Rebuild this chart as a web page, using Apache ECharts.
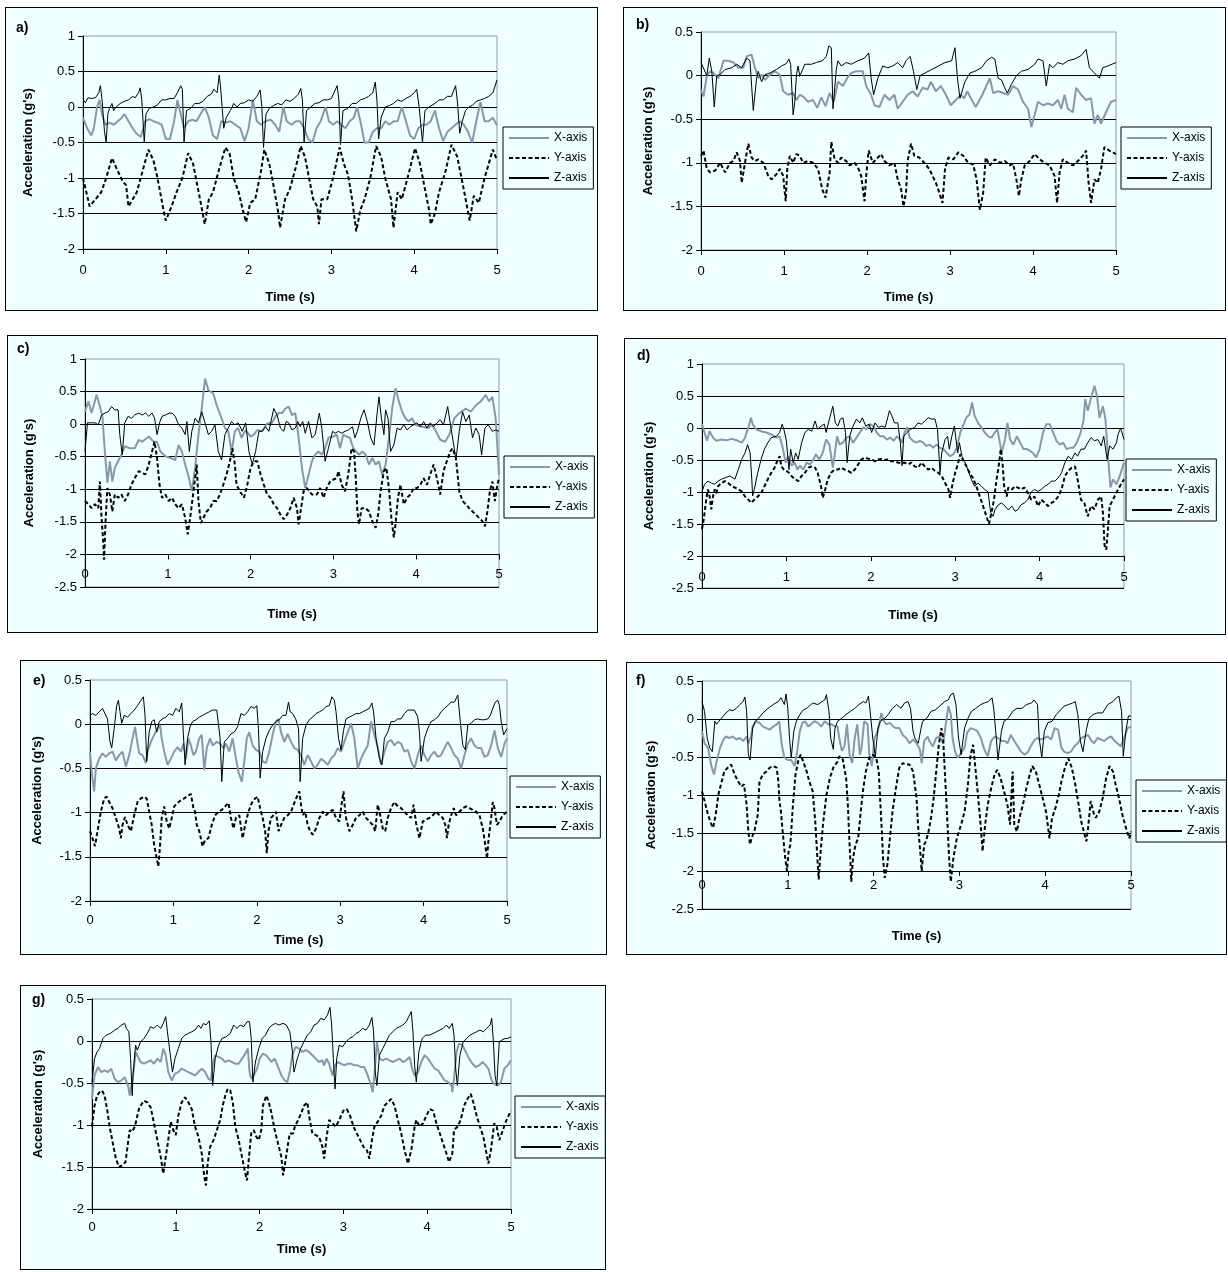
<!DOCTYPE html>
<html>
<head>
<meta charset="utf-8">
<script src="https://cdn.jsdelivr.net/npm/echarts@6/dist/echarts.min.js"></script>
<style>
  html, body { margin: 0; padding: 0; background: #fff; }
  #page { position: relative; width: 1228px; height: 1272px; }
  .box { position: absolute; box-sizing: border-box; border: 1px solid #000; background: #f0ffff; }
  #chart { position: absolute; left: 0; top: 0; width: 1228px; height: 1272px; }
</style>
</head>
<body>
<div id="page">
  <div id="chart"></div>
</div>
<script>
// ---- data: [time (s), acceleration (g's)] ----
const aX = [[0,-0.15],[0.05,-0.3],[0.1,-0.4],[0.13,-0.3],[0.17,0.0],[0.2,0.1],[0.23,-0.1],[0.27,-0.25],[0.32,-0.22],[0.37,-0.25],[0.42,-0.2],[0.47,-0.15],[0.5,-0.1],[0.55,-0.2],[0.6,-0.3],[0.65,-0.38],[0.7,-0.42],[0.75,-0.2],[0.8,-0.17],[0.85,-0.2],[0.9,-0.22],[0.95,-0.25],[1.0,-0.45],[1.05,-0.45],[1.1,-0.2],[1.14,0.1],[1.18,-0.1],[1.22,-0.3],[1.27,-0.2],[1.32,-0.18],[1.37,-0.2],[1.42,-0.1],[1.47,0.0],[1.52,-0.15],[1.57,-0.4],[1.62,-0.45],[1.67,-0.2],[1.72,-0.22],[1.78,-0.2],[1.84,-0.25],[1.9,-0.3],[1.95,-0.48],[2.0,-0.3],[2.05,0.1],[2.1,-0.2],[2.15,-0.25],[2.2,-0.2],[2.27,-0.18],[2.32,-0.25],[2.37,-0.35],[2.42,0.0],[2.46,-0.2],[2.52,-0.25],[2.57,-0.2],[2.62,-0.2],[2.67,-0.3],[2.72,-0.45],[2.77,-0.5],[2.82,-0.3],[2.87,-0.2],[2.93,0.0],[2.97,-0.2],[3.02,-0.25],[3.07,-0.2],[3.12,-0.25],[3.17,-0.3],[3.22,-0.2],[3.27,-0.15],[3.31,0.0],[3.35,-0.2],[3.4,-0.5],[3.45,-0.5],[3.5,-0.35],[3.55,-0.3],[3.6,-0.3],[3.65,-0.2],[3.7,-0.25],[3.75,-0.2],[3.8,-0.2],[3.85,0.0],[3.9,-0.2],[3.95,-0.4],[4.0,-0.45],[4.05,-0.3],[4.1,-0.25],[4.15,-0.25],[4.2,-0.2],[4.25,-0.05],[4.3,-0.3],[4.35,-0.48],[4.4,-0.35],[4.45,-0.3],[4.5,-0.25],[4.55,-0.2],[4.6,-0.25],[4.65,-0.35],[4.7,-0.5],[4.75,-0.2],[4.8,0.07],[4.85,-0.2],[4.9,-0.2],[4.95,-0.15],[5.0,-0.26]];
const aY = [[0,-1.0],[0.08,-1.4],[0.15,-1.3],[0.22,-1.2],[0.28,-1.0],[0.35,-0.72],[0.4,-0.85],[0.48,-1.05],[0.52,-1.1],[0.55,-1.4],[0.6,-1.3],[0.65,-1.2],[0.72,-0.9],[0.79,-0.6],[0.85,-0.75],[0.9,-1.0],[0.98,-1.5],[1.0,-1.6],[1.07,-1.4],[1.13,-1.2],[1.2,-1.0],[1.27,-0.65],[1.33,-0.8],[1.38,-1.1],[1.43,-1.4],[1.47,-1.65],[1.52,-1.3],[1.57,-1.2],[1.65,-0.85],[1.72,-0.57],[1.77,-0.65],[1.82,-1.0],[1.88,-1.2],[1.93,-1.45],[1.97,-1.62],[2.02,-1.35],[2.08,-1.3],[2.15,-0.9],[2.19,-0.6],[2.25,-0.8],[2.3,-1.1],[2.36,-1.5],[2.38,-1.7],[2.44,-1.3],[2.5,-1.15],[2.57,-0.85],[2.63,-0.55],[2.68,-0.7],[2.73,-1.0],[2.78,-1.3],[2.83,-1.4],[2.85,-1.65],[2.88,-1.3],[2.95,-1.3],[3.02,-1.0],[3.1,-0.57],[3.15,-0.8],[3.2,-0.95],[3.25,-1.3],[3.3,-1.75],[3.35,-1.45],[3.4,-1.3],[3.47,-1.0],[3.54,-0.55],[3.6,-0.7],[3.65,-1.0],[3.72,-1.3],[3.75,-1.7],[3.8,-1.2],[3.85,-1.3],[3.92,-1.0],[4.01,-0.58],[4.07,-0.8],[4.12,-1.1],[4.18,-1.45],[4.2,-1.65],[4.25,-1.5],[4.3,-1.2],[4.38,-0.9],[4.45,-0.53],[4.52,-0.7],[4.58,-1.05],[4.63,-1.35],[4.67,-1.6],[4.72,-1.25],[4.78,-1.35],[4.85,-1.0],[4.95,-0.6],[5.0,-0.75]];
const aZ = [[0,0.1],[0.03,0.06],[0.06,0.13],[0.1,0.12],[0.15,0.13],[0.19,0.2],[0.21,0.3],[0.23,0.1],[0.26,-0.35],[0.28,-0.5],[0.3,-0.1],[0.32,-0.02],[0.35,0.05],[0.37,-0.05],[0.4,0.0],[0.45,0.05],[0.5,0.08],[0.55,0.1],[0.6,0.15],[0.63,0.13],[0.67,0.2],[0.69,0.27],[0.71,0.1],[0.74,-0.5],[0.76,-0.1],[0.8,-0.02],[0.85,0.0],[0.9,0.03],[0.95,0.1],[1.0,0.1],[1.05,0.12],[1.1,0.12],[1.14,0.2],[1.18,0.3],[1.2,0.25],[1.22,-0.5],[1.25,-0.05],[1.3,-0.02],[1.35,0.05],[1.4,0.05],[1.45,0.08],[1.5,0.15],[1.55,0.18],[1.58,0.25],[1.62,0.2],[1.645,0.45],[1.66,0.3],[1.7,-0.3],[1.73,-0.15],[1.78,-0.05],[1.82,0.05],[1.86,0.0],[1.9,0.05],[1.95,0.06],[2.0,0.1],[2.05,0.08],[2.1,0.15],[2.14,0.24],[2.16,0.0],[2.18,-0.57],[2.21,-0.1],[2.25,-0.02],[2.3,0.02],[2.35,0.05],[2.4,0.03],[2.45,0.1],[2.5,0.08],[2.55,0.12],[2.6,0.18],[2.63,0.26],[2.65,0.1],[2.67,-0.5],[2.7,-0.05],[2.75,0.0],[2.8,0.05],[2.85,0.06],[2.9,0.1],[2.95,0.1],[3.0,0.12],[3.03,0.2],[3.07,0.3],[3.09,0.1],[3.11,-0.53],[3.14,-0.05],[3.2,-0.02],[3.25,0.05],[3.3,0.05],[3.35,0.1],[3.4,0.12],[3.45,0.15],[3.5,0.2],[3.53,0.35],[3.55,0.1],[3.57,-0.45],[3.6,-0.15],[3.65,0.0],[3.7,0.02],[3.75,0.05],[3.8,0.1],[3.85,0.08],[3.9,0.12],[3.95,0.15],[4.0,0.2],[4.03,0.25],[4.06,0.0],[4.1,-0.5],[4.13,-0.05],[4.18,0.0],[4.25,0.05],[4.3,0.1],[4.35,0.1],[4.4,0.15],[4.45,0.15],[4.5,0.3],[4.52,0.1],[4.55,-0.37],[4.58,-0.2],[4.62,-0.05],[4.66,0.0],[4.7,0.02],[4.75,0.08],[4.8,0.1],[4.85,0.12],[4.9,0.15],[4.95,0.2],[5.0,0.38]];

const bX = [[0,-0.16],[0.03,-0.24],[0.07,0.0],[0.11,0.05],[0.15,0.03],[0.21,-0.03],[0.27,0.17],[0.33,0.17],[0.39,0.15],[0.45,0.09],[0.51,0.09],[0.55,0.22],[0.61,0.24],[0.65,0.09],[0.69,-0.03],[0.73,0.01],[0.77,-0.05],[0.83,0.01],[0.89,0.05],[0.95,0.01],[0.99,-0.18],[1.05,-0.22],[1.11,-0.2],[1.15,-0.28],[1.19,-0.22],[1.23,-0.24],[1.29,-0.3],[1.35,-0.28],[1.4,-0.37],[1.45,-0.25],[1.5,-0.35],[1.55,-0.2],[1.6,-0.3],[1.65,-0.07],[1.71,-0.12],[1.76,-0.03],[1.81,0.03],[1.87,0.05],[1.95,0.05],[1.99,-0.12],[2.05,-0.22],[2.09,-0.34],[2.15,-0.36],[2.21,-0.22],[2.27,-0.28],[2.33,-0.22],[2.37,-0.38],[2.43,-0.3],[2.49,-0.22],[2.55,-0.18],[2.61,-0.24],[2.67,-0.14],[2.73,-0.16],[2.77,-0.07],[2.83,-0.18],[2.89,-0.12],[2.95,-0.22],[3.01,-0.34],[3.07,-0.28],[3.13,-0.22],[3.17,-0.26],[3.21,-0.18],[3.25,-0.26],[3.31,-0.36],[3.39,-0.22],[3.48,-0.03],[3.52,-0.2],[3.58,-0.18],[3.64,-0.2],[3.7,-0.22],[3.76,-0.12],[3.82,-0.16],[3.88,-0.3],[3.94,-0.38],[3.98,-0.59],[4.02,-0.45],[4.06,-0.3],[4.12,-0.34],[4.18,-0.32],[4.24,-0.34],[4.3,-0.28],[4.34,-0.38],[4.38,-0.22],[4.42,-0.38],[4.48,-0.42],[4.52,-0.14],[4.58,-0.22],[4.64,-0.28],[4.7,-0.26],[4.74,-0.55],[4.78,-0.45],[4.82,-0.55],[4.88,-0.42],[4.94,-0.3],[5.0,-0.28]];
const bY = [[0,-0.92],[0.03,-0.86],[0.07,-1.07],[0.11,-1.11],[0.17,-1.09],[0.23,-1.0],[0.29,-1.11],[0.35,-1.0],[0.39,-0.98],[0.43,-0.88],[0.47,-0.98],[0.49,-1.23],[0.53,-1.0],[0.57,-0.78],[0.61,-0.94],[0.65,-0.98],[0.69,-0.96],[0.75,-1.0],[0.81,-1.15],[0.85,-1.19],[0.91,-1.13],[0.95,-1.07],[0.99,-1.15],[1.02,-1.44],[1.04,-1.07],[1.07,-0.92],[1.11,-1.0],[1.15,-0.9],[1.19,-0.92],[1.23,-1.0],[1.29,-0.98],[1.35,-1.0],[1.41,-1.07],[1.46,-1.3],[1.5,-1.4],[1.55,-1.11],[1.57,-0.76],[1.61,-0.96],[1.65,-1.0],[1.69,-0.94],[1.75,-0.98],[1.79,-1.03],[1.85,-1.0],[1.89,-1.05],[1.93,-1.15],[1.97,-1.44],[1.99,-1.15],[2.02,-0.86],[2.07,-1.0],[2.13,-0.94],[2.17,-0.9],[2.21,-0.98],[2.27,-1.03],[2.33,-1.0],[2.37,-1.19],[2.41,-1.3],[2.44,-1.5],[2.47,-1.34],[2.49,-0.98],[2.53,-0.78],[2.57,-0.92],[2.63,-0.94],[2.69,-1.0],[2.75,-1.07],[2.79,-1.15],[2.83,-1.23],[2.87,-1.34],[2.91,-1.46],[2.94,-1.07],[2.98,-0.94],[3.04,-0.96],[3.1,-0.88],[3.16,-0.92],[3.22,-1.0],[3.28,-1.02],[3.32,-1.19],[3.36,-1.54],[3.4,-1.34],[3.43,-0.94],[3.48,-1.03],[3.54,-0.96],[3.6,-1.0],[3.66,-0.98],[3.72,-1.03],[3.76,-1.01],[3.8,-1.19],[3.83,-1.38],[3.86,-1.19],[3.9,-1.03],[3.96,-0.98],[4.02,-0.9],[4.08,-0.96],[4.14,-1.0],[4.2,-1.03],[4.26,-1.15],[4.29,-1.46],[4.32,-1.11],[4.36,-0.96],[4.42,-1.0],[4.48,-1.03],[4.54,-0.98],[4.6,-0.92],[4.64,-0.86],[4.67,-1.23],[4.7,-1.46],[4.74,-1.19],[4.78,-1.23],[4.82,-1.07],[4.86,-0.82],[4.92,-0.86],[5.0,-0.9]];
const bZ = [[0,0.15],[0.07,0.0],[0.1,0.2],[0.13,0.05],[0.16,-0.36],[0.19,0.0],[0.23,0.01],[0.29,0.07],[0.37,0.09],[0.43,0.13],[0.49,0.09],[0.55,0.2],[0.59,0.17],[0.61,-0.12],[0.63,-0.4],[0.67,-0.03],[0.69,0.05],[0.73,-0.07],[0.77,0.01],[0.83,0.03],[0.91,0.07],[0.97,0.11],[1.03,0.14],[1.06,0.19],[1.08,0.13],[1.11,-0.45],[1.13,-0.3],[1.15,0.01],[1.17,0.11],[1.19,-0.01],[1.25,0.13],[1.33,0.13],[1.39,0.15],[1.46,0.17],[1.51,0.22],[1.54,0.34],[1.57,0.32],[1.59,-0.38],[1.63,0.07],[1.65,0.17],[1.69,0.11],[1.75,0.15],[1.81,0.13],[1.89,0.17],[1.97,0.2],[2.02,0.26],[2.05,-0.03],[2.08,-0.22],[2.13,-0.03],[2.19,0.11],[2.25,0.09],[2.31,0.11],[2.37,0.15],[2.43,0.09],[2.47,0.17],[2.52,0.22],[2.56,0.05],[2.6,-0.16],[2.64,0.0],[2.7,0.03],[2.78,0.07],[2.86,0.11],[2.94,0.15],[3.02,0.17],[3.06,0.32],[3.09,-0.03],[3.12,-0.26],[3.18,-0.07],[3.24,0.03],[3.3,0.05],[3.38,0.09],[3.44,0.17],[3.5,0.21],[3.54,0.19],[3.58,-0.03],[3.62,-0.05],[3.66,-0.14],[3.69,-0.2],[3.74,-0.1],[3.8,0.0],[3.86,0.05],[3.94,0.07],[4.02,0.13],[4.06,0.19],[4.12,0.17],[4.16,-0.12],[4.2,0.13],[4.24,0.09],[4.3,0.15],[4.36,0.13],[4.42,0.17],[4.5,0.19],[4.58,0.23],[4.64,0.3],[4.68,0.09],[4.74,0.03],[4.8,-0.03],[4.84,0.09],[4.9,0.11],[5.0,0.15]];

const cX = [[0,0.19],[0.04,0.35],[0.08,0.17],[0.14,0.45],[0.18,0.27],[0.21,0.12],[0.24,-0.42],[0.27,-0.9],[0.3,-0.57],[0.33,-0.88],[0.36,-0.67],[0.4,-0.57],[0.44,-0.47],[0.48,-0.34],[0.54,-0.37],[0.6,-0.37],[0.65,-0.24],[0.69,-0.27],[0.77,-0.19],[0.83,-0.27],[0.87,-0.27],[0.91,-0.42],[0.97,-0.49],[1.03,-0.52],[1.09,-0.55],[1.13,-0.32],[1.17,-0.42],[1.21,-0.62],[1.25,-0.8],[1.29,-1.03],[1.33,-0.67],[1.37,-0.16],[1.41,0.24],[1.45,0.7],[1.49,0.52],[1.55,0.47],[1.59,0.29],[1.65,0.09],[1.69,-0.06],[1.73,-0.11],[1.77,-0.42],[1.81,-0.11],[1.85,-0.06],[1.89,-0.21],[1.94,-0.09],[2.0,-0.19],[2.04,-0.16],[2.08,-0.09],[2.14,-0.11],[2.2,0.01],[2.26,0.02],[2.3,0.12],[2.34,0.17],[2.38,0.17],[2.42,0.24],[2.46,0.27],[2.5,0.14],[2.54,0.17],[2.58,-0.21],[2.62,-0.67],[2.66,-0.98],[2.7,-0.78],[2.74,-0.57],[2.78,-0.47],[2.82,-0.42],[2.86,-0.47],[2.9,-0.37],[2.94,-0.21],[3.0,-0.19],[3.04,-0.16],[3.08,-0.37],[3.12,-0.16],[3.16,-0.19],[3.2,-0.21],[3.24,-0.37],[3.31,-0.47],[3.35,-0.42],[3.39,-0.47],[3.43,-0.62],[3.47,-0.52],[3.51,-0.62],[3.55,-0.57],[3.59,-0.78],[3.63,-0.62],[3.67,-0.21],[3.71,0.24],[3.75,0.55],[3.79,0.35],[3.83,0.19],[3.87,0.09],[3.91,0.04],[3.95,0.09],[3.99,-0.01],[4.07,-0.04],[4.15,-0.06],[4.19,-0.01],[4.23,-0.09],[4.29,-0.24],[4.35,-0.27],[4.4,-0.16],[4.46,0.09],[4.52,0.17],[4.6,0.24],[4.66,0.19],[4.72,0.29],[4.78,0.35],[4.84,0.45],[4.88,0.35],[4.92,0.42],[4.96,0.09],[5.0,-0.78]];
const cY = [[0,-1.18],[0.04,-1.23],[0.08,-1.29],[0.12,-1.23],[0.16,-1.29],[0.18,-0.88],[0.2,-1.44],[0.22,-1.8],[0.23,-2.08],[0.25,-1.44],[0.27,-0.98],[0.3,-1.08],[0.33,-1.34],[0.36,-1.08],[0.4,-1.13],[0.44,-1.08],[0.48,-1.18],[0.52,-1.08],[0.56,-0.93],[0.6,-0.83],[0.65,-0.72],[0.69,-0.75],[0.73,-0.77],[0.77,-0.62],[0.81,-0.42],[0.84,-0.27],[0.87,-0.52],[0.9,-0.93],[0.93,-1.13],[0.97,-1.08],[1.01,-1.18],[1.05,-1.13],[1.09,-1.23],[1.13,-1.29],[1.17,-1.23],[1.21,-1.44],[1.24,-1.69],[1.27,-1.44],[1.31,-1.03],[1.35,-0.62],[1.37,-1.18],[1.4,-1.52],[1.43,-1.44],[1.47,-1.34],[1.51,-1.29],[1.55,-1.18],[1.59,-1.18],[1.63,-1.08],[1.67,-0.93],[1.71,-0.77],[1.75,-0.57],[1.78,-0.37],[1.81,-0.62],[1.83,-0.93],[1.87,-1.03],[1.92,-1.13],[1.96,-0.93],[2.0,-0.67],[2.04,-0.57],[2.08,-0.57],[2.12,-0.77],[2.16,-0.93],[2.2,-1.08],[2.24,-1.13],[2.28,-1.23],[2.32,-1.29],[2.36,-1.39],[2.4,-1.46],[2.44,-1.39],[2.48,-1.29],[2.52,-1.13],[2.56,-1.29],[2.58,-1.54],[2.61,-1.29],[2.64,-1.03],[2.68,-0.98],[2.74,-1.08],[2.8,-1.08],[2.84,-0.98],[2.88,-1.13],[2.92,-0.98],[2.96,-0.88],[3.0,-0.85],[3.04,-0.83],[3.06,-0.72],[3.1,-0.93],[3.14,-1.03],[3.18,-0.77],[3.22,-0.37],[3.25,-0.42],[3.27,-0.83],[3.29,-1.34],[3.31,-1.54],[3.34,-1.29],[3.39,-1.29],[3.43,-1.34],[3.47,-1.49],[3.51,-1.59],[3.54,-1.39],[3.57,-1.03],[3.61,-0.72],[3.64,-0.67],[3.67,-0.98],[3.7,-1.44],[3.73,-1.74],[3.75,-1.54],[3.78,-1.13],[3.81,-0.93],[3.85,-1.23],[3.89,-1.13],[3.93,-1.08],[3.97,-0.98],[4.01,-0.98],[4.05,-0.93],[4.09,-0.83],[4.13,-0.93],[4.17,-0.77],[4.21,-0.62],[4.25,-0.83],[4.29,-1.08],[4.33,-0.72],[4.37,-0.57],[4.41,-0.42],[4.44,-0.37],[4.48,-0.52],[4.52,-1.03],[4.56,-1.18],[4.6,-1.23],[4.64,-1.29],[4.68,-1.34],[4.72,-1.39],[4.76,-1.44],[4.8,-1.49],[4.83,-1.57],[4.86,-1.34],[4.89,-1.03],[4.92,-0.88],[4.95,-1.18],[4.98,-0.93],[5.0,-0.83]];
const cZ = [[0,-0.42],[0.03,0.02],[0.08,0.02],[0.12,0.02],[0.16,-0.01],[0.2,0.14],[0.24,0.17],[0.28,0.19],[0.32,0.27],[0.36,0.22],[0.4,0.22],[0.42,-0.16],[0.45,-0.47],[0.48,0.02],[0.52,0.12],[0.56,0.09],[0.6,0.14],[0.65,0.17],[0.69,0.14],[0.73,0.17],[0.77,0.12],[0.81,0.17],[0.84,0.09],[0.87,-0.16],[0.9,0.02],[0.93,0.12],[0.97,0.14],[1.02,0.17],[1.05,0.17],[1.09,0.12],[1.13,-0.01],[1.17,-0.06],[1.21,-0.16],[1.23,0.04],[1.26,-0.42],[1.29,-0.11],[1.33,0.09],[1.37,0.02],[1.41,0.19],[1.45,0.02],[1.49,-0.16],[1.53,-0.11],[1.57,-0.01],[1.61,-0.42],[1.65,-0.55],[1.69,-0.16],[1.73,-0.06],[1.77,0.04],[1.81,-0.01],[1.85,0.02],[1.9,-0.11],[1.94,0.02],[1.98,-0.42],[2.02,-0.62],[2.06,-0.42],[2.1,-0.11],[2.14,-0.11],[2.18,-0.04],[2.22,-0.11],[2.28,0.24],[2.32,0.14],[2.36,-0.06],[2.4,-0.11],[2.43,0.04],[2.46,0.02],[2.5,-0.09],[2.54,-0.06],[2.57,0.04],[2.6,-0.04],[2.63,0.04],[2.66,-0.14],[2.7,0.04],[2.74,-0.21],[2.78,-0.16],[2.83,0.17],[2.86,-0.06],[2.9,-0.57],[2.94,-0.37],[2.99,-0.11],[3.02,-0.14],[3.06,-0.11],[3.1,-0.14],[3.14,-0.11],[3.18,-0.09],[3.23,-0.04],[3.26,-0.21],[3.29,-0.11],[3.33,0.09],[3.37,0.22],[3.41,0.04],[3.45,-0.21],[3.49,-0.32],[3.53,0.19],[3.55,0.42],[3.58,0.09],[3.61,-0.16],[3.63,0.22],[3.66,0.09],[3.69,-0.42],[3.73,-0.32],[3.77,-0.06],[3.81,-0.09],[3.85,-0.01],[3.89,-0.09],[3.93,-0.04],[3.97,-0.01],[4.01,0.02],[4.05,-0.04],[4.09,0.04],[4.13,-0.06],[4.17,0.02],[4.21,-0.04],[4.25,0.02],[4.29,0.07],[4.33,-0.01],[4.38,0.27],[4.42,-0.06],[4.46,-0.37],[4.48,-0.55],[4.52,-0.11],[4.56,0.19],[4.6,0.04],[4.64,0.14],[4.68,-0.21],[4.72,-0.06],[4.76,-0.16],[4.79,-0.47],[4.83,-0.06],[4.87,-0.01],[4.92,-0.11],[4.96,-0.09],[5.0,-0.11]];

const dX = [[0,0.06],[0.03,-0.07],[0.06,-0.2],[0.09,-0.05],[0.13,-0.15],[0.17,-0.2],[0.23,-0.18],[0.29,-0.19],[0.35,-0.17],[0.41,-0.19],[0.47,-0.23],[0.51,-0.15],[0.55,0.01],[0.58,0.16],[0.6,0.06],[0.64,-0.02],[0.7,-0.05],[0.76,-0.07],[0.82,-0.1],[0.88,-0.15],[0.92,-0.13],[0.96,-0.33],[0.99,-0.54],[1.02,-0.44],[1.06,-0.59],[1.1,-0.54],[1.13,-0.65],[1.16,-0.59],[1.2,-0.65],[1.24,-0.54],[1.28,-0.57],[1.32,-0.49],[1.35,-0.41],[1.39,-0.49],[1.43,-0.39],[1.47,-0.18],[1.51,-0.26],[1.55,-0.62],[1.57,-0.44],[1.6,-0.13],[1.63,-0.26],[1.67,-0.23],[1.71,-0.15],[1.75,-0.13],[1.79,-0.23],[1.83,-0.15],[1.87,-0.07],[1.91,0.01],[1.95,-0.02],[1.99,0.06],[2.03,0.03],[2.07,-0.07],[2.11,-0.13],[2.15,-0.13],[2.19,-0.18],[2.23,-0.15],[2.27,-0.2],[2.31,-0.13],[2.35,-0.18],[2.37,-0.23],[2.4,-0.07],[2.43,0.01],[2.46,-0.15],[2.5,-0.2],[2.54,-0.23],[2.58,-0.2],[2.62,-0.23],[2.66,-0.28],[2.7,-0.26],[2.74,-0.31],[2.78,-0.26],[2.82,-0.31],[2.86,-0.33],[2.9,-0.39],[2.94,-0.44],[2.98,-0.41],[3.02,-0.31],[3.06,-0.07],[3.1,0.06],[3.13,0.16],[3.17,0.21],[3.2,0.4],[3.23,0.19],[3.27,0.08],[3.31,0.01],[3.35,-0.07],[3.39,-0.13],[3.43,-0.15],[3.47,-0.07],[3.5,-0.02],[3.53,-0.23],[3.55,-0.39],[3.59,-0.18],[3.62,0.08],[3.65,-0.18],[3.69,-0.26],[3.73,-0.13],[3.77,-0.23],[3.81,-0.33],[3.85,-0.33],[3.89,-0.36],[3.92,-0.39],[3.96,-0.46],[4.0,-0.33],[4.04,-0.07],[4.08,0.06],[4.12,0.06],[4.16,-0.07],[4.2,-0.2],[4.24,-0.26],[4.28,-0.23],[4.32,-0.33],[4.36,-0.31],[4.4,-0.31],[4.44,-0.23],[4.48,-0.1],[4.52,0.11],[4.54,0.45],[4.57,0.27],[4.61,0.47],[4.65,0.66],[4.68,0.5],[4.71,0.16],[4.75,0.34],[4.78,0.14],[4.81,-0.44],[4.84,-0.93],[4.87,-0.8],[4.91,-0.88],[4.95,-0.75],[5.0,-0.54]];
const dY = [[0,-1.58],[0.02,-1.43],[0.05,-1.12],[0.07,-0.96],[0.09,-1.07],[0.11,-1.27],[0.13,-1.07],[0.15,-0.96],[0.17,-1.02],[0.19,-0.91],[0.23,-0.86],[0.27,-0.83],[0.31,-0.86],[0.35,-0.91],[0.39,-0.93],[0.43,-0.96],[0.47,-0.99],[0.51,-1.07],[0.55,-1.12],[0.58,-1.17],[0.62,-1.12],[0.66,-1.07],[0.7,-1.02],[0.74,-0.91],[0.78,-0.8],[0.82,-0.7],[0.86,-0.62],[0.9,-0.49],[0.92,-0.44],[0.94,-0.6],[0.97,-0.65],[1.0,-0.67],[1.03,-0.7],[1.06,-0.75],[1.1,-0.8],[1.14,-0.83],[1.18,-0.75],[1.22,-0.7],[1.26,-0.62],[1.3,-0.6],[1.34,-0.62],[1.37,-0.7],[1.41,-0.91],[1.43,-1.09],[1.46,-0.96],[1.49,-0.8],[1.53,-0.7],[1.57,-0.65],[1.61,-0.65],[1.65,-0.62],[1.69,-0.65],[1.73,-0.67],[1.77,-0.7],[1.81,-0.65],[1.85,-0.57],[1.89,-0.49],[1.93,-0.46],[1.97,-0.48],[2.01,-0.49],[2.05,-0.52],[2.09,-0.49],[2.13,-0.48],[2.17,-0.5],[2.2,-0.49],[2.24,-0.52],[2.28,-0.52],[2.32,-0.54],[2.36,-0.55],[2.4,-0.54],[2.44,-0.57],[2.48,-0.54],[2.52,-0.6],[2.56,-0.62],[2.6,-0.54],[2.64,-0.6],[2.68,-0.65],[2.72,-0.62],[2.76,-0.67],[2.8,-0.7],[2.84,-0.75],[2.88,-0.86],[2.92,-0.96],[2.94,-1.09],[2.97,-0.86],[3.0,-0.7],[3.03,-0.57],[3.06,-0.41],[3.09,-0.49],[3.13,-0.59],[3.17,-0.7],[3.21,-0.78],[3.25,-0.91],[3.29,-1.06],[3.33,-1.22],[3.37,-1.38],[3.4,-1.5],[3.43,-1.32],[3.46,-1.12],[3.49,-0.8],[3.51,-0.65],[3.54,-0.33],[3.56,-0.54],[3.58,-0.91],[3.61,-1.07],[3.63,-0.93],[3.67,-0.96],[3.71,-0.91],[3.74,-0.93],[3.78,-0.96],[3.82,-0.93],[3.86,-1.01],[3.9,-1.12],[3.94,-1.07],[3.98,-1.22],[4.02,-1.12],[4.06,-1.17],[4.1,-1.22],[4.14,-1.17],[4.18,-1.14],[4.22,-1.07],[4.26,-0.96],[4.3,-0.75],[4.34,-0.67],[4.38,-0.62],[4.42,-0.6],[4.45,-0.8],[4.49,-1.12],[4.53,-1.17],[4.57,-1.38],[4.61,-1.22],[4.65,-1.27],[4.69,-1.12],[4.73,-1.07],[4.75,-1.32],[4.77,-1.84],[4.79,-1.9],[4.81,-1.58],[4.83,-1.22],[4.87,-1.12],[4.91,-1.01],[4.95,-0.91],[5.0,-0.8]];
const dZ = [[0,-1.0],[0.03,-0.88],[0.07,-0.83],[0.11,-0.86],[0.15,-0.88],[0.19,-0.83],[0.23,-0.8],[0.27,-0.78],[0.33,-0.75],[0.39,-0.8],[0.43,-0.65],[0.47,-0.49],[0.51,-0.39],[0.54,-0.26],[0.57,-0.39],[0.59,-0.8],[0.6,-1.06],[0.62,-0.96],[0.66,-0.7],[0.7,-0.49],[0.74,-0.33],[0.78,-0.23],[0.82,-0.15],[0.88,-0.13],[0.92,-0.07],[0.95,0.06],[0.97,-0.02],[1.0,-0.2],[1.03,-0.65],[1.05,-0.33],[1.08,-0.54],[1.11,-0.39],[1.14,-0.49],[1.18,-0.23],[1.22,-0.07],[1.26,-0.02],[1.3,-0.05],[1.34,0.11],[1.37,-0.02],[1.41,0.03],[1.45,0.06],[1.47,-0.07],[1.51,0.14],[1.55,0.34],[1.58,0.08],[1.61,0.03],[1.64,0.14],[1.67,0.16],[1.7,-0.07],[1.72,-0.54],[1.75,-0.13],[1.79,0.03],[1.83,0.14],[1.87,0.08],[1.9,0.16],[1.94,0.03],[1.98,0.06],[2.01,-0.07],[2.05,0.08],[2.09,0.01],[2.13,0.03],[2.17,0.01],[2.2,0.16],[2.22,0.27],[2.25,0.19],[2.28,0.08],[2.32,0.08],[2.35,-0.23],[2.37,-0.59],[2.39,-0.13],[2.43,-0.07],[2.47,-0.02],[2.52,0.01],[2.56,0.08],[2.6,0.06],[2.64,0.11],[2.68,0.16],[2.72,0.14],[2.76,0.14],[2.79,-0.02],[2.82,-0.7],[2.84,-0.39],[2.88,-0.18],[2.91,-0.13],[2.93,-0.33],[2.96,-0.13],[2.99,0.03],[3.03,-0.39],[3.05,-0.23],[3.08,-0.44],[3.11,-0.52],[3.15,-0.65],[3.19,-0.8],[3.23,-0.91],[3.27,-0.86],[3.31,-0.91],[3.35,-0.96],[3.39,-1.0],[3.42,-1.32],[3.45,-1.38],[3.47,-1.28],[3.51,-1.2],[3.55,-1.17],[3.59,-1.22],[3.63,-1.28],[3.67,-1.22],[3.71,-1.3],[3.74,-1.28],[3.78,-1.2],[3.82,-1.17],[3.86,-1.12],[3.9,-1.0],[3.94,-0.96],[3.98,-0.99],[4.02,-0.96],[4.06,-0.91],[4.1,-0.88],[4.14,-0.83],[4.18,-0.83],[4.22,-0.78],[4.26,-0.7],[4.3,-0.54],[4.34,-0.44],[4.38,-0.49],[4.42,-0.39],[4.45,-0.44],[4.49,-0.33],[4.53,-0.33],[4.57,-0.23],[4.61,-0.15],[4.65,-0.2],[4.69,-0.18],[4.73,-0.28],[4.76,-0.13],[4.8,-0.49],[4.83,-0.28],[4.87,-0.33],[4.91,-0.23],[4.93,-0.1],[4.96,0.0],[5.0,-0.18]];

const eX = [[0,-0.31],[0.02,-0.54],[0.05,-0.76],[0.07,-0.5],[0.11,-0.39],[0.15,-0.33],[0.19,-0.37],[0.23,-0.33],[0.27,-0.31],[0.31,-0.41],[0.35,-0.35],[0.39,-0.31],[0.43,-0.48],[0.47,-0.35],[0.51,-0.16],[0.54,-0.03],[0.56,-0.16],[0.59,-0.33],[0.63,-0.35],[0.67,-0.44],[0.69,-0.31],[0.73,-0.2],[0.77,-0.12],[0.81,-0.05],[0.84,-0.01],[0.86,-0.16],[0.89,-0.31],[0.93,-0.46],[0.97,-0.39],[1.01,-0.31],[1.05,-0.26],[1.09,-0.31],[1.12,-0.22],[1.15,-0.39],[1.18,-0.16],[1.21,-0.24],[1.24,-0.35],[1.27,-0.31],[1.31,-0.16],[1.34,-0.12],[1.37,-0.52],[1.4,-0.27],[1.44,-0.16],[1.47,-0.24],[1.52,-0.2],[1.56,-0.22],[1.6,-0.27],[1.63,-0.22],[1.67,-0.31],[1.71,-0.16],[1.75,-0.39],[1.78,-0.54],[1.82,-0.65],[1.85,-0.42],[1.88,-0.16],[1.91,-0.09],[1.95,-0.24],[1.99,-0.29],[2.03,-0.31],[2.07,-0.42],[2.11,-0.44],[2.15,-0.31],[2.19,-0.12],[2.23,0.03],[2.26,0.06],[2.29,-0.09],[2.33,-0.2],[2.37,-0.11],[2.41,-0.2],[2.45,-0.27],[2.49,-0.29],[2.53,-0.35],[2.57,-0.46],[2.61,-0.35],[2.65,-0.42],[2.69,-0.5],[2.73,-0.46],[2.77,-0.39],[2.81,-0.42],[2.85,-0.46],[2.89,-0.39],[2.93,-0.35],[2.97,-0.27],[3.01,-0.31],[3.05,-0.2],[3.09,-0.09],[3.13,0.01],[3.17,-0.16],[3.21,-0.5],[3.25,-0.39],[3.29,-0.31],[3.33,-0.24],[3.37,0.03],[3.41,-0.12],[3.45,-0.26],[3.49,-0.46],[3.53,-0.31],[3.57,-0.2],[3.61,-0.18],[3.65,-0.24],[3.69,-0.2],[3.73,-0.22],[3.77,-0.31],[3.81,-0.29],[3.85,-0.42],[3.89,-0.5],[3.93,-0.35],[3.97,-0.24],[4.01,-0.35],[4.05,-0.42],[4.09,-0.35],[4.13,-0.31],[4.17,-0.37],[4.21,-0.35],[4.25,-0.27],[4.29,-0.2],[4.33,-0.27],[4.37,-0.35],[4.41,-0.39],[4.45,-0.5],[4.49,-0.35],[4.53,-0.22],[4.57,-0.16],[4.61,-0.24],[4.65,-0.27],[4.69,-0.27],[4.73,-0.37],[4.77,-0.35],[4.81,-0.24],[4.85,-0.07],[4.89,-0.27],[4.93,-0.37],[4.97,-0.22],[5.0,-0.16]];
const eY = [[0,-1.21],[0.03,-1.29],[0.06,-1.38],[0.09,-1.21],[0.13,-0.99],[0.17,-0.84],[0.2,-0.82],[0.23,-0.88],[0.27,-0.95],[0.31,-1.06],[0.35,-1.18],[0.37,-1.29],[0.39,-1.14],[0.42,-1.05],[0.45,-1.14],[0.49,-1.21],[0.53,-1.03],[0.57,-0.88],[0.61,-0.84],[0.65,-0.82],[0.68,-0.84],[0.71,-0.99],[0.74,-1.14],[0.77,-1.37],[0.8,-1.52],[0.82,-1.61],[0.84,-1.37],[0.86,-1.06],[0.89,-0.93],[0.92,-1.1],[0.95,-1.18],[0.98,-1.06],[1.01,-0.93],[1.05,-0.89],[1.09,-0.86],[1.13,-0.84],[1.17,-0.81],[1.21,-0.79],[1.24,-0.95],[1.26,-0.99],[1.28,-1.14],[1.31,-1.21],[1.35,-1.38],[1.38,-1.31],[1.42,-1.29],[1.46,-1.14],[1.5,-1.03],[1.54,-0.99],[1.58,-0.97],[1.62,-0.93],[1.66,-0.89],[1.69,-1.06],[1.72,-1.18],[1.75,-1.06],[1.79,-1.03],[1.83,-1.29],[1.86,-1.14],[1.9,-0.99],[1.94,-0.89],[1.98,-0.84],[2.01,-0.82],[2.04,-0.95],[2.07,-1.06],[2.1,-1.21],[2.12,-1.46],[2.14,-1.21],[2.17,-1.06],[2.2,-1.03],[2.23,-0.99],[2.26,-1.21],[2.29,-1.14],[2.33,-1.06],[2.37,-1.03],[2.41,-0.99],[2.45,-0.89],[2.48,-0.82],[2.51,-0.76],[2.53,-0.91],[2.55,-1.03],[2.58,-0.99],[2.61,-1.14],[2.64,-1.21],[2.67,-1.25],[2.71,-1.18],[2.75,-1.06],[2.79,-0.99],[2.83,-1.03],[2.87,-0.99],[2.91,-0.97],[2.95,-1.06],[2.99,-1.1],[3.02,-0.88],[3.04,-0.76],[3.06,-0.99],[3.07,-1.06],[3.11,-1.21],[3.15,-1.14],[3.19,-1.06],[3.23,-1.03],[3.27,-0.99],[3.31,-1.06],[3.35,-1.1],[3.39,-1.14],[3.42,-1.21],[3.45,-0.91],[3.48,-1.03],[3.51,-1.18],[3.54,-1.21],[3.57,-1.06],[3.61,-0.95],[3.65,-0.88],[3.69,-0.93],[3.73,-0.95],[3.77,-0.99],[3.81,-1.03],[3.85,-1.06],[3.88,-0.91],[3.91,-1.12],[3.95,-1.29],[3.99,-1.1],[4.03,-1.08],[4.07,-1.06],[4.11,-1.03],[4.15,-0.99],[4.19,-1.03],[4.23,-1.06],[4.26,-1.14],[4.28,-1.29],[4.3,-1.14],[4.33,-1.03],[4.36,-0.95],[4.39,-1.03],[4.43,-0.99],[4.47,-0.95],[4.51,-0.93],[4.55,-0.95],[4.59,-0.97],[4.63,-0.99],[4.67,-1.03],[4.71,-1.18],[4.74,-1.37],[4.76,-1.52],[4.78,-1.29],[4.81,-1.06],[4.83,-0.88],[4.85,-0.95],[4.88,-1.14],[4.91,-1.1],[4.95,-1.03],[5.0,-0.99]];
const eZ = [[0,0.1],[0.03,0.12],[0.07,0.1],[0.11,0.14],[0.15,0.18],[0.18,0.12],[0.21,0.06],[0.24,-0.2],[0.26,-0.27],[0.29,-0.05],[0.32,0.21],[0.34,0.27],[0.36,0.14],[0.38,0.01],[0.41,0.1],[0.45,0.08],[0.49,0.12],[0.53,0.16],[0.57,0.21],[0.61,0.27],[0.64,0.31],[0.66,0.1],[0.68,-0.42],[0.71,-0.09],[0.74,0.03],[0.77,0.05],[0.8,-0.09],[0.83,0.03],[0.87,0.06],[0.91,0.08],[0.95,0.12],[0.99,0.1],[1.03,0.18],[1.07,0.14],[1.1,0.24],[1.12,-0.12],[1.14,-0.46],[1.17,-0.16],[1.2,-0.03],[1.23,0.03],[1.27,0.05],[1.31,0.08],[1.35,0.1],[1.39,0.12],[1.43,0.14],[1.47,0.16],[1.52,0.16],[1.54,0.14],[1.56,-0.16],[1.58,-0.65],[1.61,-0.2],[1.65,-0.16],[1.69,-0.11],[1.73,-0.09],[1.77,-0.03],[1.81,0.12],[1.85,0.1],[1.89,0.14],[1.93,0.2],[1.97,0.18],[2.0,0.21],[2.02,-0.05],[2.04,-0.61],[2.07,-0.31],[2.11,-0.16],[2.15,-0.07],[2.19,-0.01],[2.23,0.03],[2.27,0.05],[2.31,0.1],[2.35,0.1],[2.38,0.25],[2.4,0.14],[2.43,0.12],[2.47,0.05],[2.5,-0.05],[2.52,-0.65],[2.55,-0.16],[2.59,-0.01],[2.63,0.05],[2.67,0.08],[2.71,0.12],[2.75,0.14],[2.79,0.16],[2.83,0.2],[2.87,0.21],[2.9,0.31],[2.93,0.27],[2.95,0.14],[2.98,-0.16],[3.01,-0.29],[3.04,-0.07],[3.07,0.06],[3.11,0.08],[3.15,0.1],[3.19,0.12],[3.23,0.12],[3.27,0.14],[3.31,0.16],[3.35,0.18],[3.38,0.24],[3.4,0.14],[3.43,-0.16],[3.47,-0.39],[3.5,-0.46],[3.53,-0.16],[3.57,-0.09],[3.61,0.03],[3.65,0.03],[3.69,0.06],[3.73,0.06],[3.77,0.12],[3.81,0.16],[3.85,0.16],[3.89,0.16],[3.93,0.08],[3.95,-0.09],[3.97,-0.42],[4.01,-0.16],[4.05,-0.05],[4.09,0.03],[4.13,0.05],[4.17,0.08],[4.21,0.14],[4.25,0.18],[4.29,0.21],[4.33,0.25],[4.37,0.25],[4.41,0.33],[4.44,0.03],[4.47,-0.24],[4.5,-0.29],[4.53,-0.01],[4.57,0.01],[4.61,0.05],[4.65,0.06],[4.69,0.05],[4.73,0.05],[4.77,0.06],[4.8,0.1],[4.83,0.18],[4.86,0.25],[4.89,0.27],[4.91,0.21],[4.93,0.03],[4.96,-0.12],[4.98,-0.12],[5.0,-0.05]];

const fX = [[0,-0.16],[0.03,-0.32],[0.07,-0.38],[0.11,-0.62],[0.14,-0.73],[0.17,-0.56],[0.21,-0.38],[0.25,-0.27],[0.28,-0.23],[0.32,-0.25],[0.36,-0.23],[0.4,-0.27],[0.44,-0.25],[0.48,-0.29],[0.52,-0.23],[0.54,-0.32],[0.57,-0.23],[0.59,-0.1],[0.63,-0.03],[0.67,-0.05],[0.71,-0.1],[0.75,-0.12],[0.79,-0.14],[0.83,-0.1],[0.87,-0.07],[0.9,-0.03],[0.93,-0.34],[0.96,-0.51],[1.0,-0.54],[1.04,-0.54],[1.08,-0.62],[1.11,-0.42],[1.14,-0.16],[1.17,-0.05],[1.2,-0.03],[1.24,-0.1],[1.27,-0.07],[1.31,-0.03],[1.35,-0.05],[1.39,-0.1],[1.43,-0.03],[1.47,-0.07],[1.51,-0.07],[1.55,-0.1],[1.58,-0.1],[1.6,-0.25],[1.63,-0.42],[1.66,-0.36],[1.69,-0.07],[1.72,-0.47],[1.75,-0.58],[1.78,-0.25],[1.81,-0.07],[1.84,-0.47],[1.86,-0.38],[1.89,-0.03],[1.93,-0.07],[1.95,-0.47],[1.98,-0.62],[2.01,-0.25],[2.05,-0.16],[2.09,0.08],[2.12,-0.03],[2.15,-0.07],[2.19,-0.05],[2.23,-0.1],[2.26,-0.12],[2.3,-0.12],[2.34,-0.21],[2.38,-0.25],[2.42,-0.32],[2.46,-0.27],[2.5,-0.32],[2.54,-0.4],[2.56,-0.58],[2.59,-0.29],[2.63,-0.23],[2.65,-0.29],[2.69,-0.36],[2.73,-0.25],[2.77,-0.23],[2.81,-0.32],[2.85,0.0],[2.87,0.17],[2.9,0.06],[2.92,-0.25],[2.95,-0.43],[2.98,-0.51],[3.02,-0.45],[3.06,-0.38],[3.09,-0.18],[3.13,-0.12],[3.18,-0.14],[3.21,-0.16],[3.25,-0.25],[3.29,-0.4],[3.33,-0.49],[3.37,-0.29],[3.41,-0.23],[3.45,-0.25],[3.49,-0.29],[3.53,-0.29],[3.56,-0.32],[3.6,-0.21],[3.64,-0.29],[3.68,-0.36],[3.72,-0.43],[3.76,-0.47],[3.8,-0.43],[3.84,-0.34],[3.88,-0.27],[3.91,-0.25],[3.95,-0.27],[3.99,-0.25],[4.03,-0.23],[4.07,-0.27],[4.11,-0.12],[4.15,-0.14],[4.19,-0.38],[4.22,-0.43],[4.26,-0.45],[4.3,-0.43],[4.34,-0.36],[4.38,-0.32],[4.42,-0.25],[4.46,-0.23],[4.5,-0.21],[4.54,-0.29],[4.57,-0.32],[4.61,-0.25],[4.65,-0.27],[4.69,-0.29],[4.73,-0.25],[4.77,-0.23],[4.81,-0.29],[4.84,-0.32],[4.88,-0.36],[4.92,-0.25],[4.96,-0.12],[5.0,-0.1]];
const fY = [[0,-0.95],[0.03,-1.08],[0.07,-1.26],[0.11,-1.39],[0.13,-1.43],[0.16,-1.26],[0.19,-1.0],[0.23,-0.82],[0.26,-0.69],[0.3,-0.64],[0.34,-0.6],[0.38,-0.73],[0.42,-0.82],[0.46,-0.89],[0.49,-0.86],[0.52,-1.13],[0.54,-1.48],[0.56,-1.65],[0.58,-1.56],[0.61,-1.48],[0.65,-1.26],[0.67,-0.82],[0.71,-0.73],[0.75,-0.69],[0.79,-0.64],[0.83,-0.62],[0.87,-0.64],[0.89,-0.82],[0.9,-1.04],[0.92,-1.22],[0.94,-1.48],[0.97,-1.83],[0.99,-2.0],[1.01,-1.74],[1.03,-1.65],[1.06,-1.13],[1.09,-0.73],[1.12,-0.56],[1.15,-0.47],[1.18,-0.56],[1.22,-0.69],[1.25,-0.82],[1.29,-0.95],[1.32,-1.35],[1.34,-1.74],[1.36,-2.11],[1.38,-1.78],[1.41,-1.39],[1.45,-1.0],[1.49,-0.78],[1.53,-0.64],[1.58,-0.56],[1.6,-0.49],[1.64,-0.53],[1.68,-0.78],[1.7,-1.13],[1.72,-1.65],[1.74,-2.14],[1.76,-1.83],[1.79,-1.65],[1.82,-1.57],[1.85,-1.22],[1.88,-0.91],[1.91,-0.69],[1.95,-0.51],[1.99,-0.47],[2.03,-0.51],[2.06,-0.69],[2.08,-1.13],[2.1,-1.57],[2.11,-1.83],[2.13,-2.09],[2.16,-1.92],[2.19,-1.57],[2.22,-1.22],[2.26,-0.91],[2.3,-0.64],[2.34,-0.58],[2.38,-0.6],[2.42,-0.6],[2.46,-0.69],[2.5,-1.04],[2.52,-1.43],[2.55,-1.83],[2.56,-2.0],[2.59,-1.65],[2.61,-1.61],[2.64,-1.48],[2.67,-1.3],[2.7,-1.04],[2.73,-0.69],[2.76,-0.34],[2.79,-0.12],[2.81,-0.25],[2.83,-0.69],[2.86,-1.35],[2.88,-1.83],[2.9,-2.14],[2.93,-1.83],[2.97,-1.57],[3.02,-1.39],[3.06,-1.22],[3.1,-0.86],[3.13,-0.47],[3.16,-0.34],[3.19,-0.69],[3.22,-1.04],[3.25,-1.43],[3.27,-1.74],[3.3,-1.39],[3.33,-1.13],[3.37,-0.91],[3.41,-0.73],[3.44,-0.67],[3.48,-0.78],[3.52,-0.95],[3.56,-1.13],[3.59,-1.39],[3.62,-0.69],[3.64,-1.39],[3.67,-1.48],[3.7,-1.3],[3.74,-1.13],[3.78,-0.91],[3.82,-0.73],[3.85,-0.62],[3.89,-0.69],[3.93,-0.86],[3.97,-1.04],[4.01,-1.22],[4.05,-1.57],[4.08,-1.3],[4.12,-1.17],[4.16,-0.99],[4.19,-0.82],[4.23,-0.64],[4.27,-0.52],[4.31,-0.64],[4.35,-0.86],[4.39,-1.13],[4.42,-1.35],[4.45,-1.48],[4.48,-1.61],[4.5,-1.43],[4.53,-1.08],[4.57,-1.26],[4.59,-1.3],[4.63,-1.22],[4.67,-1.04],[4.71,-0.78],[4.75,-0.62],[4.79,-0.69],[4.82,-0.86],[4.86,-1.04],[4.9,-1.26],[4.94,-1.43],[4.98,-1.57],[5.0,-1.48]];
const fZ = [[0,0.23],[0.03,0.1],[0.06,-0.25],[0.09,-0.38],[0.12,-0.43],[0.15,-0.03],[0.17,-0.07],[0.21,-0.01],[0.25,0.04],[0.28,0.08],[0.32,0.12],[0.36,0.11],[0.4,0.14],[0.44,0.19],[0.48,0.23],[0.5,0.29],[0.52,0.1],[0.54,-0.47],[0.56,-0.54],[0.59,-0.12],[0.62,-0.03],[0.66,0.01],[0.71,0.08],[0.77,0.14],[0.83,0.19],[0.89,0.23],[0.92,0.28],[0.96,0.19],[0.98,0.33],[1.0,0.14],[1.02,-0.25],[1.04,-0.51],[1.07,-0.16],[1.1,-0.03],[1.14,0.06],[1.18,0.12],[1.22,0.14],[1.25,0.17],[1.29,0.21],[1.35,0.19],[1.4,0.23],[1.43,0.25],[1.45,0.32],[1.48,0.1],[1.5,-0.25],[1.53,-0.4],[1.55,-0.12],[1.58,-0.03],[1.63,0.01],[1.68,0.06],[1.73,0.1],[1.78,0.14],[1.83,0.19],[1.88,0.23],[1.91,0.21],[1.94,0.3],[1.96,0.1],[1.99,-0.25],[2.02,-0.49],[2.05,-0.12],[2.08,-0.03],[2.13,0.01],[2.17,0.06],[2.22,0.14],[2.27,0.19],[2.32,0.14],[2.36,0.21],[2.4,0.23],[2.43,0.14],[2.46,-0.16],[2.48,-0.25],[2.52,-0.32],[2.55,-0.14],[2.57,-0.03],[2.62,0.01],[2.67,0.1],[2.72,0.12],[2.77,0.17],[2.83,0.23],[2.87,0.25],[2.9,0.32],[2.93,0.34],[2.96,0.19],[2.99,-0.25],[3.02,-0.47],[3.06,-0.12],[3.1,0.01],[3.14,0.1],[3.19,0.14],[3.25,0.19],[3.29,0.21],[3.34,0.23],[3.38,0.28],[3.4,0.14],[3.43,-0.25],[3.45,-0.54],[3.49,-0.16],[3.52,-0.03],[3.57,0.01],[3.62,0.1],[3.67,0.14],[3.73,0.14],[3.78,0.19],[3.84,0.21],[3.87,0.25],[3.91,0.19],[3.93,-0.25],[3.96,-0.51],[3.99,-0.16],[4.03,-0.05],[4.08,-0.03],[4.13,0.06],[4.18,0.12],[4.22,0.17],[4.27,0.19],[4.32,0.21],[4.35,0.23],[4.38,0.06],[4.41,-0.29],[4.44,-0.43],[4.48,-0.14],[4.51,0.01],[4.56,0.06],[4.61,0.08],[4.67,0.08],[4.73,0.19],[4.79,0.23],[4.83,0.28],[4.86,0.3],[4.89,0.1],[4.91,-0.49],[4.94,-0.16],[4.97,0.04],[5.0,0.04]];

const gX = [[0,-0.69],[0.03,-0.41],[0.07,-0.31],[0.11,-0.37],[0.15,-0.35],[0.19,-0.37],[0.23,-0.33],[0.27,-0.45],[0.31,-0.49],[0.35,-0.47],[0.39,-0.43],[0.43,-0.53],[0.45,-0.65],[0.49,-0.41],[0.52,-0.13],[0.55,-0.19],[0.58,-0.25],[0.62,-0.27],[0.66,-0.25],[0.7,-0.23],[0.74,-0.27],[0.78,-0.21],[0.82,-0.25],[0.85,-0.09],[0.88,-0.17],[0.91,-0.37],[0.95,-0.47],[0.99,-0.39],[1.03,-0.37],[1.07,-0.33],[1.11,-0.35],[1.15,-0.37],[1.19,-0.39],[1.23,-0.41],[1.27,-0.37],[1.31,-0.33],[1.35,-0.37],[1.39,-0.45],[1.42,-0.47],[1.44,-0.29],[1.47,-0.17],[1.51,-0.19],[1.55,-0.21],[1.59,-0.25],[1.63,-0.23],[1.67,-0.25],[1.71,-0.27],[1.75,-0.27],[1.79,-0.21],[1.83,-0.15],[1.86,-0.09],[1.88,-0.37],[1.9,-0.45],[1.93,-0.41],[1.97,-0.33],[2.0,-0.21],[2.04,-0.15],[2.08,-0.17],[2.11,-0.21],[2.14,-0.25],[2.18,-0.21],[2.22,-0.31],[2.26,-0.41],[2.3,-0.47],[2.33,-0.49],[2.36,-0.37],[2.39,-0.17],[2.43,-0.07],[2.47,-0.09],[2.51,-0.13],[2.55,-0.11],[2.59,-0.13],[2.63,-0.17],[2.67,-0.21],[2.71,-0.25],[2.75,-0.23],[2.77,-0.29],[2.8,-0.21],[2.83,-0.27],[2.87,-0.41],[2.9,-0.29],[2.93,-0.25],[2.97,-0.27],[3.01,-0.29],[3.05,-0.27],[3.09,-0.27],[3.13,-0.29],[3.17,-0.29],[3.21,-0.31],[3.25,-0.31],[3.29,-0.41],[3.33,-0.53],[3.35,-0.61],[3.37,-0.41],[3.4,-0.01],[3.43,-0.21],[3.47,-0.23],[3.51,-0.21],[3.55,-0.23],[3.59,-0.25],[3.63,-0.23],[3.67,-0.21],[3.71,-0.25],[3.75,-0.23],[3.79,-0.19],[3.82,-0.33],[3.85,-0.41],[3.89,-0.37],[3.93,-0.25],[3.97,-0.17],[4.01,-0.21],[4.05,-0.27],[4.09,-0.33],[4.13,-0.35],[4.17,-0.41],[4.21,-0.47],[4.25,-0.49],[4.29,-0.53],[4.3,-0.61],[4.32,-0.45],[4.35,-0.13],[4.38,-0.03],[4.42,-0.05],[4.46,-0.13],[4.5,-0.21],[4.54,-0.27],[4.58,-0.31],[4.62,-0.29],[4.66,-0.25],[4.7,-0.29],[4.73,-0.33],[4.77,-0.47],[4.8,-0.51],[4.84,-0.53],[4.88,-0.49],[4.92,-0.33],[4.96,-0.29],[5.0,-0.23]];
const gY = [[0,-1.02],[0.03,-0.77],[0.06,-0.65],[0.09,-0.61],[0.12,-0.59],[0.15,-0.65],[0.18,-0.81],[0.21,-1.02],[0.24,-1.17],[0.28,-1.38],[0.32,-1.5],[0.36,-1.48],[0.4,-1.44],[0.43,-1.21],[0.45,-1.06],[0.48,-1.08],[0.51,-1.02],[0.53,-0.94],[0.56,-0.81],[0.58,-0.77],[0.62,-0.71],[0.66,-0.73],[0.7,-0.79],[0.74,-0.98],[0.78,-1.18],[0.82,-1.38],[0.85,-1.58],[0.88,-1.38],[0.91,-1.18],[0.94,-0.96],[0.97,-1.06],[1.0,-1.12],[1.03,-0.89],[1.07,-0.73],[1.11,-0.67],[1.15,-0.73],[1.19,-0.81],[1.23,-1.02],[1.27,-1.14],[1.31,-1.34],[1.34,-1.62],[1.36,-1.72],[1.38,-1.46],[1.41,-1.26],[1.45,-1.18],[1.49,-1.06],[1.53,-0.94],[1.56,-0.77],[1.59,-0.65],[1.62,-0.57],[1.65,-0.59],[1.68,-0.73],[1.71,-1.02],[1.75,-1.18],[1.79,-1.38],[1.83,-1.58],[1.85,-1.66],[1.87,-1.42],[1.9,-1.1],[1.93,-1.06],[1.96,-1.14],[1.99,-1.18],[2.02,-1.06],[2.04,-0.77],[2.08,-0.65],[2.11,-0.73],[2.14,-0.85],[2.18,-1.06],[2.22,-1.22],[2.26,-1.38],[2.28,-1.6],[2.31,-1.42],[2.34,-1.22],[2.36,-1.1],[2.4,-1.1],[2.42,-1.02],[2.46,-0.94],[2.5,-0.85],[2.53,-0.77],[2.57,-0.73],[2.59,-0.89],[2.63,-1.1],[2.67,-1.12],[2.71,-1.14],[2.75,-1.26],[2.77,-1.4],[2.8,-1.14],[2.83,-0.94],[2.87,-0.98],[2.91,-1.02],[2.95,-0.94],[3.0,-0.83],[3.04,-0.81],[3.08,-0.89],[3.12,-1.02],[3.16,-1.1],[3.2,-1.18],[3.24,-1.26],[3.28,-1.3],[3.31,-1.4],[3.34,-1.18],[3.37,-1.02],[3.41,-0.96],[3.45,-0.89],[3.49,-0.77],[3.53,-0.73],[3.57,-0.69],[3.61,-0.77],[3.65,-0.94],[3.69,-1.1],[3.73,-1.3],[3.77,-1.46],[3.81,-1.3],[3.85,-1.02],[3.87,-0.94],[3.91,-1.02],[3.95,-0.98],[3.99,-0.89],[4.03,-0.81],[4.07,-0.83],[4.11,-0.98],[4.15,-1.1],[4.19,-1.22],[4.23,-1.34],[4.26,-1.44],[4.3,-1.34],[4.32,-1.06],[4.36,-1.02],[4.4,-0.94],[4.44,-0.77],[4.48,-0.69],[4.52,-0.63],[4.55,-0.73],[4.59,-0.89],[4.63,-1.02],[4.67,-1.14],[4.7,-1.3],[4.73,-1.46],[4.76,-1.3],[4.8,-0.98],[4.83,-1.02],[4.86,-1.18],[4.89,-1.1],[4.93,-0.98],[4.97,-0.89],[5.0,-0.83]];
const gZ = [[0,-0.49],[0.03,-0.21],[0.06,-0.13],[0.09,-0.09],[0.13,0.03],[0.17,0.07],[0.22,0.09],[0.27,0.13],[0.31,0.15],[0.35,0.19],[0.39,0.21],[0.41,0.15],[0.44,0.11],[0.46,-0.21],[0.48,-0.65],[0.49,-0.41],[0.52,-0.05],[0.54,-0.11],[0.58,-0.01],[0.62,0.03],[0.66,0.09],[0.7,0.17],[0.74,0.15],[0.78,0.19],[0.82,0.15],[0.85,0.21],[0.88,0.29],[0.9,0.11],[0.93,-0.13],[0.96,-0.37],[0.99,-0.21],[1.03,-0.09],[1.07,0.03],[1.11,0.07],[1.15,0.09],[1.19,0.11],[1.23,0.13],[1.27,0.19],[1.3,0.15],[1.33,0.21],[1.36,0.19],[1.4,0.24],[1.42,-0.01],[1.44,-0.53],[1.47,-0.21],[1.51,-0.05],[1.55,0.03],[1.6,0.05],[1.65,0.09],[1.69,0.19],[1.73,0.15],[1.77,0.19],[1.81,0.17],[1.85,0.23],[1.88,0.23],[1.9,0.03],[1.92,-0.49],[1.95,-0.25],[1.99,-0.09],[2.03,0.03],[2.07,0.07],[2.11,0.15],[2.15,0.19],[2.19,0.21],[2.23,0.19],[2.28,0.21],[2.32,0.19],[2.36,0.11],[2.39,-0.11],[2.41,-0.37],[2.45,-0.21],[2.49,-0.09],[2.53,-0.01],[2.57,0.07],[2.61,0.11],[2.65,0.19],[2.69,0.21],[2.73,0.27],[2.77,0.25],[2.81,0.31],[2.84,0.4],[2.86,0.19],[2.88,-0.21],[2.9,-0.57],[2.92,-0.21],[2.95,-0.05],[2.99,-0.07],[3.03,-0.01],[3.07,0.03],[3.11,0.05],[3.15,0.09],[3.19,0.11],[3.23,0.15],[3.27,0.13],[3.31,0.19],[3.34,0.28],[3.36,0.11],[3.38,-0.37],[3.4,-0.53],[3.43,-0.17],[3.47,-0.09],[3.51,-0.01],[3.55,0.07],[3.59,0.11],[3.63,0.15],[3.67,0.17],[3.71,0.19],[3.75,0.23],[3.78,0.29],[3.81,0.35],[3.83,0.11],[3.85,-0.29],[3.87,-0.49],[3.9,-0.13],[3.94,0.03],[3.98,0.07],[4.03,0.07],[4.07,0.09],[4.11,0.11],[4.15,0.13],[4.19,0.15],[4.23,0.19],[4.26,0.15],[4.3,0.21],[4.32,0.07],[4.34,-0.33],[4.36,-0.53],[4.39,-0.17],[4.43,-0.01],[4.47,0.03],[4.51,0.07],[4.55,0.09],[4.59,0.11],[4.63,0.13],[4.67,0.11],[4.71,0.15],[4.75,0.19],[4.77,0.27],[4.79,-0.01],[4.81,-0.41],[4.83,-0.53],[4.86,-0.01],[4.89,0.01],[4.93,0.03],[4.96,0.03],[5.0,0.05]];

const seriesNames = ['X-axis', 'Y-axis', 'Z-axis'];
const xTitle = 'Time (s)';
const yTitle = "Acceleration (g's)";

// ---- layout (page pixels) ----
// box: [left, top, right, bottom], plot: [left, top, right, bottom]
const panels = [
  { label: 'a)', data: [aX, aY, aZ], yMin: -2,   yMax: 1,   axisAt: -2, box: [5, 7, 598, 311],     plot: [83, 36, 497, 249],    title: [16, 21],   legend: [503, 127],  yGap: 48, xGap: 42, lblM: 15 },
  { label: 'b)', data: [bX, bY, bZ], yMin: -2,   yMax: 0.5, axisAt: -2, box: [623, 7, 1226, 311],  plot: [701, 32, 1116, 250],  title: [636, 18],  legend: [1121, 127], yGap: 46, xGap: 41, lblM: 15 },
  { label: 'c)', data: [cX, cY, cZ], yMin: -2.5, yMax: 1,   axisAt: -2, box: [7, 335, 598, 633],   plot: [85, 359, 499, 587],   title: [17, 342],  legend: [504, 456],  yGap: 49, xGap: 53, lblM: 13 },
  { label: 'd)', data: [dX, dY, dZ], yMin: -2.5, yMax: 1,   axisAt: -2, box: [624, 338, 1226, 635], plot: [702, 364, 1124, 588], title: [637, 349], legend: [1126, 459], yGap: 46, xGap: 53, lblM: 15 },
  { label: 'e)', data: [eX, eY, eZ], yMin: -2,   yMax: 0.5, axisAt: -2, box: [20, 660, 607, 955],  plot: [90, 680, 507, 901],   title: [33, 674],  legend: [510, 776],  yGap: 46, xGap: 33, lblM: 13 },
  { label: 'f)', data: [fX, fY, fZ], yMin: -2.5, yMax: 0.5, axisAt: -2, box: [626, 662, 1227, 955], plot: [702, 681, 1131, 909], title: [636, 674], legend: [1136, 780], yGap: 44, xGap: 59, lblM: 8 },
  { label: 'g)', data: [gX, gY, gZ], yMin: -2,   yMax: 0.5, axisAt: -2, box: [20, 985, 606, 1270], plot: [92, 999, 511, 1209],  title: [32, 993],  legend: [515, 1096], yGap: 47, xGap: 34, lblM: 12 }
];

const FONT = '"Liberation Sans", Arial, sans-serif';
const BG = '#f0ffff';
const seriesStyles = [
  { color: '#8a97ab', width: 2, type: 'solid' },
  { color: '#000000', width: 2, type: [4, 2.5] },
  { color: '#000000', width: 1, type: 'solid' }
];

// panel frames
const page = document.getElementById('page');
panels.forEach(p => {
  const d = document.createElement('div');
  d.className = 'box';
  d.style.left = p.box[0] + 'px';
  d.style.top = p.box[1] + 'px';
  d.style.width = (p.box[2] - p.box[0]) + 'px';
  d.style.height = (p.box[3] - p.box[1]) + 'px';
  page.insertBefore(d, page.firstChild);
});

const grids = [], xAxes = [], yAxes = [], series = [], legends = [], titles = [];

panels.forEach((p, i) => {
  const w = p.plot[2] - p.plot[0];
  const h = p.plot[3] - p.plot[1];
  // x axis crosses the value axis at axisAt, not at the bottom of the plot
  const axisOffset = -(p.axisAt - p.yMin) / (p.yMax - p.yMin) * h;

  grids.push({
    left: p.plot[0], top: p.plot[1], width: w, height: h,
    show: true, backgroundColor: BG, borderColor: '#8d9bb0', borderWidth: 1
  });

  xAxes.push({
    type: 'value', gridIndex: i, min: 0, max: 5, interval: 1,
    offset: axisOffset,
    name: xTitle, nameLocation: 'middle', nameGap: p.xGap,
    nameTextStyle: { fontSize: 13, fontWeight: 'bold', color: '#000', fontFamily: FONT },
    axisLine: { show: true, onZero: false, lineStyle: { color: '#000', width: 1 } },
    axisTick: { show: true, inside: false, length: 5, lineStyle: { color: '#000' } },
    axisLabel: { fontSize: 13, color: '#000', margin: p.lblM, fontFamily: FONT },
    splitLine: { show: false }
  });

  yAxes.push({
    type: 'value', gridIndex: i, min: p.yMin, max: p.yMax, interval: 0.5,
    name: yTitle, nameLocation: 'middle', nameGap: p.yGap,
    nameTextStyle: { fontSize: 13, fontWeight: 'bold', color: '#000', fontFamily: FONT },
    axisLine: { show: true, lineStyle: { color: '#000', width: 1 } },
    axisTick: { show: true, inside: false, length: 5, lineStyle: { color: '#000' } },
    axisLabel: { fontSize: 13, color: '#000', margin: 8, fontFamily: FONT },
    splitLine: { show: true, showMaxLine: false, lineStyle: { color: '#000', width: 1 } }
  });

  p.data.forEach((d, k) => {
    const st = seriesStyles[k];
    series.push({
      name: seriesNames[k], type: 'line', xAxisIndex: i, yAxisIndex: i,
      data: d, symbol: 'none', showSymbol: false, smooth: false,
      lineStyle: { color: st.color, width: st.width, type: st.type },
      itemStyle: { color: st.color },
      emphasis: { disabled: true }, z: 2 + k
    });
  });

  legends.push({
    orient: 'vertical', left: p.legend[0], top: p.legend[1],
    data: seriesNames, itemWidth: 40, itemHeight: 12, itemGap: 8,
    padding: [5, 6, 5, 5], borderColor: '#000', borderWidth: 1, backgroundColor: BG,
    itemStyle: { opacity: 0 },
    textStyle: { fontSize: 12, color: '#000', fontFamily: FONT },
    selectedMode: false
  });

  titles.push({
    text: p.label, left: p.title[0], top: p.title[1], padding: 0,
    textStyle: { fontSize: 14, fontWeight: 'bold', color: '#000', fontFamily: FONT }
  });
});

const chart = echarts.init(document.getElementById('chart'), null, { renderer: 'canvas' });
chart.setOption({
  animation: false,
  backgroundColor: 'transparent',
  textStyle: { fontFamily: FONT },
  title: titles,
  legend: legends,
  grid: grids,
  xAxis: xAxes,
  yAxis: yAxes,
  series: series
});
</script>
</body>
</html>
